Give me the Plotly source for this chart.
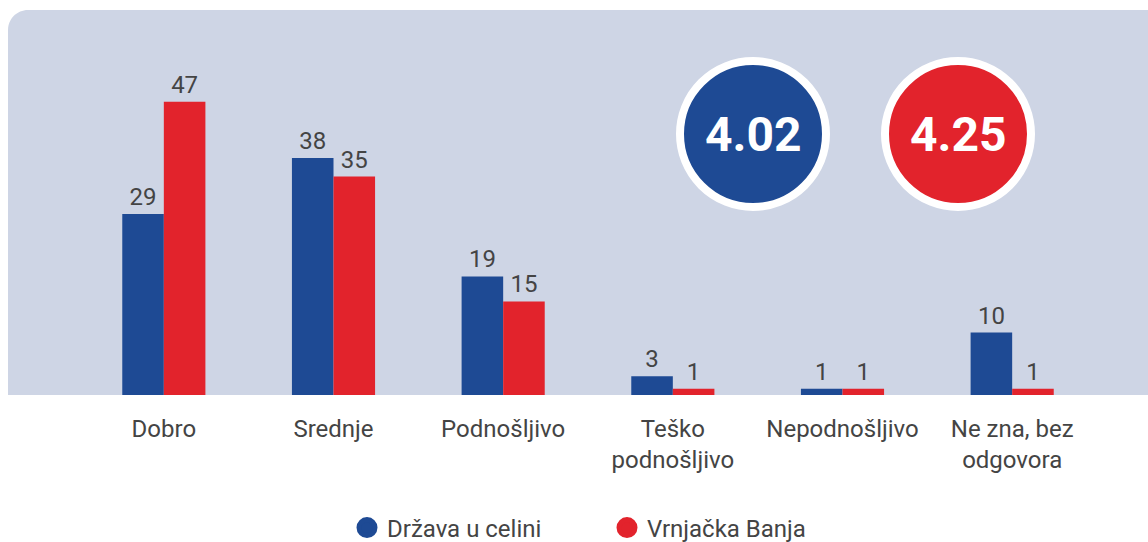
import plotly.graph_objects as go

categories = ["Dobro", "Srednje", "Podnošljivo", "Teško<br>podnošljivo", "Nepodnošljivo", "Ne zna, bez<br>odgovora"]
serbia = [29, 38, 19, 3, 1, 10]
vrnjacka = [47, 35, 15, 1, 1, 1]
series_names = ["Država u celini", "Vrnjačka Banja"]
averages = ["4.02", "4.25"]

BLUE = "#1e4a94"
RED = "#e2232c"
PANEL = "#ced5e5"
TEXT = "#444444"
FONT = "Roboto"

W, H = 1148, 542
BASE = 395
TOP = 10
M_T, M_B = TOP, H - BASE
plot_h = H - M_T - M_B


def px_x(px):
    return px / W


def px_y(py):
    return (BASE - py) / plot_h


fig = go.Figure()
for name, vals, col in [(series_names[0], serbia, BLUE), (series_names[1], vrnjacka, RED)]:
    fig.add_trace(go.Bar(
        x=categories, y=vals, name=name, marker=dict(color=col, line=dict(width=0)),
        text=[str(v) for v in vals], textposition="outside",
        textfont=dict(family=FONT, size=24, color=TEXT),
        cliponaxis=False, showlegend=False, hoverinfo="skip",
    ))
    fig.add_trace(go.Scatter(
        x=[None], y=[None], mode="markers", name=name,
        marker=dict(symbol="circle", size=16, color=col, line=dict(color=col, width=5)),
        showlegend=True,
    ))

# background panel with rounded top-left corner
x0 = px_x(8)
rx = 20 / W
ry = 20 / plot_h
k = 0.552
path = (f"M {x0},0 L {x0},{1-ry} C {x0},{1-ry+ry*k} {x0+rx-rx*k},1 {x0+rx},1 "
        f"L 1,1 L 1,0 Z")
shapes = [dict(type="path", xref="paper", yref="paper", path=path,
               fillcolor=PANEL, line=dict(width=0), layer="below")]

annotations = []
for cx, col, txt in [(753, BLUE, averages[0]), (958, RED, averages[1])]:
    shapes.append(dict(type="circle", xref="paper", yref="paper",
                       xsizemode="pixel", ysizemode="pixel",
                       xanchor=px_x(cx), yanchor=px_y(134),
                       x0=-73, x1=73, y0=-73, y1=73,
                       fillcolor=col, line=dict(color="white", width=8), layer="above"))
    annotations.append(dict(xref="paper", yref="paper", x=px_x(cx), y=px_y(134),
                            text=f"<b>{txt}</b>", showarrow=False,
                            font=dict(family=FONT, size=48, color="white"),
                            xanchor="center", yanchor="middle"))

fig.update_layout(
    width=W, height=H,
    margin=dict(l=0, r=0, t=M_T, b=M_B, pad=0, autoexpand=False),
    paper_bgcolor="white", plot_bgcolor="rgba(0,0,0,0)",
    barmode="group", bargap=0.51, bargroupgap=0,
    font=dict(family=FONT, size=24, color=TEXT),
    xaxis=dict(domain=[px_x(79), px_x(1097)], range=[-0.5, 5.5], showgrid=False,
               zeroline=False, showline=False, ticks="", fixedrange=True,
               tickfont=dict(family=FONT, size=24, color=TEXT), ticklabelstandoff=17),
    yaxis=dict(range=[0, 61.7], showgrid=False, zeroline=False, showticklabels=False,
               showline=False, ticks="", fixedrange=True),
    shapes=shapes, annotations=annotations,
    legend=dict(orientation="h", x=px_x(347), xanchor="left", y=px_y(528), yanchor="middle",
                font=dict(family=FONT, size=24, color=TEXT), bgcolor="rgba(0,0,0,0)",
                entrywidth=215, entrywidthmode="pixels", itemclick=False, itemdoubleclick=False),
    showlegend=True,
)

fig.write_html(
    "out.html",
    config={"displayModeBar": False, "staticPlot": False},
    post_script="document.body.style.margin='0';document.body.style.overflow='hidden';",
)
